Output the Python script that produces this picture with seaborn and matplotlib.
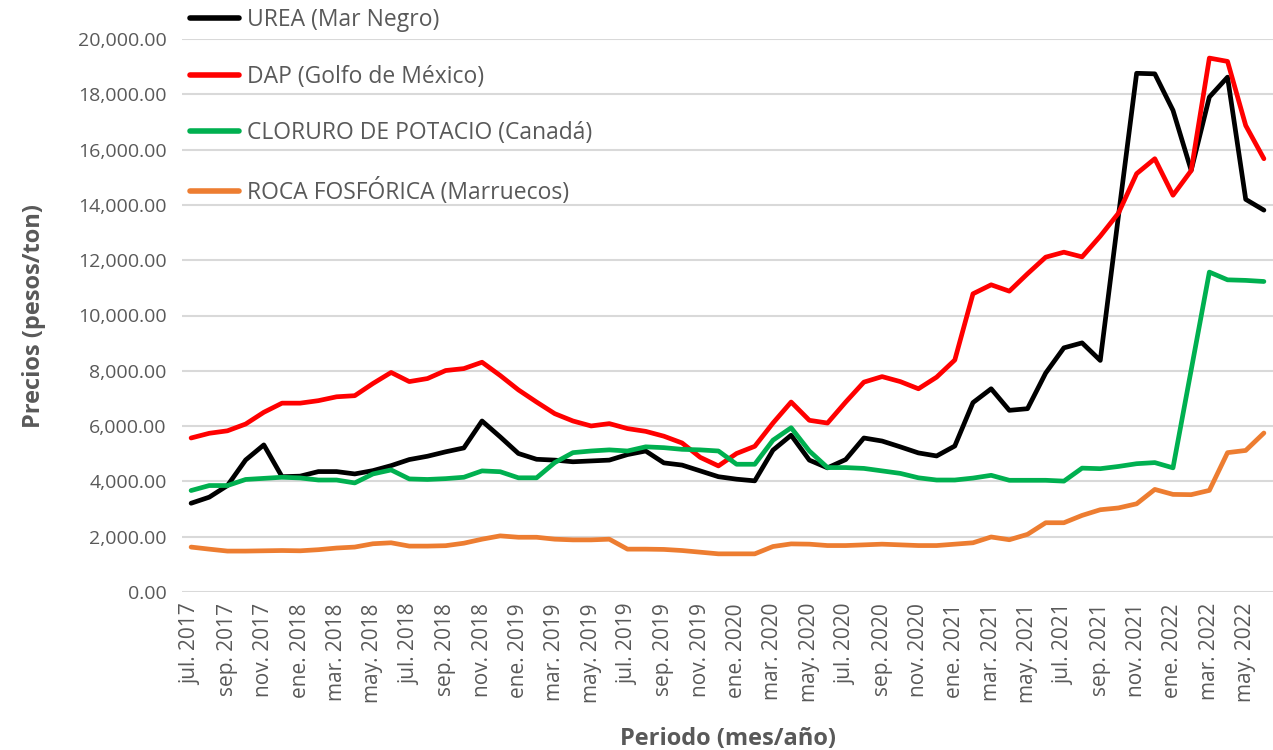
import pandas as pd
import matplotlib
matplotlib.use("Agg")
import matplotlib.pyplot as plt
import seaborn as sns

sns.set_theme(style="white")
plt.rcParams['font.family'] = ['Open Sans', 'DejaVu Sans']

GRIS = '#595959'

# Precios mensuales jul. 2017 - jun. 2022 (pesos/ton)
urea = [3210, 3430, 3850, 4775, 5320, 4170, 4190, 4355, 4355, 4270,
        4390, 4570, 4790, 4910, 5070, 5210, 6185, 5610, 5010, 4800,
        4770, 4710, 4740, 4770, 4970, 5100, 4670, 4590, 4380, 4170,
        4080, 4020, 5130, 5670, 4770, 4490, 4790, 5570, 5460, 5250,
        5030, 4920, 5280, 6850, 7350, 6570, 6630, 7920, 8830, 9010,
        8375, 13600, 18760, 18740, 17420, 15250, 17900, 18620, 14200, 13810]

dap = [5570, 5740, 5830, 6075, 6500, 6830, 6830, 6920, 7060, 7100,
       7540, 7940, 7610, 7720, 8010, 8080, 8310, 7830, 7310, 6870,
       6450, 6185, 6005, 6090, 5910, 5810, 5635, 5390, 4870, 4560,
       5010, 5270, 6110, 6870, 6210, 6110, 6870, 7590, 7790, 7610,
       7350, 7770, 8390, 10785, 11110, 10880, 11510, 12110, 12290, 12120,
       12870, 13700, 15130, 15670, 14350, 15240, 19310, 19190, 16870, 15670]

cloruro = [3670, 3850, 3850, 4070, 4110, 4150, 4125, 4050, 4050, 3945,
           4270, 4415, 4090, 4070, 4100, 4150, 4380, 4350, 4130, 4130,
           4680, 5040, 5100, 5140, 5100, 5250, 5220, 5160, 5140, 5100,
           4620, 4620, 5490, 5940, 5100, 4500, 4500, 4470, 4380, 4290,
           4130, 4050, 4050, 4120, 4220, 4040, 4040, 4040, 4010, 4480,
           4460, 4540, 4640, 4680, 4490, 8030, 11570, 11290, 11270, 11230]

roca = [1625, 1550, 1480, 1480, 1490, 1500, 1490, 1530, 1590, 1625,
        1745, 1780, 1660, 1660, 1675, 1765, 1910, 2030, 1980, 1980,
        1910, 1885, 1885, 1910, 1550, 1550, 1540, 1500, 1440, 1380,
        1380, 1380, 1645, 1740, 1730, 1680, 1680, 1705, 1730, 1705,
        1680, 1680, 1730, 1780, 1990, 1890, 2085, 2505, 2505, 2770,
        2975, 3040, 3190, 3710, 3530, 3520, 3675, 5040, 5120, 5750]

etiquetas = ['jul. 2017', 'sep. 2017', 'nov. 2017', 'ene. 2018', 'mar. 2018',
             'may. 2018', 'jul. 2018', 'sep. 2018', 'nov. 2018', 'ene. 2019',
             'mar. 2019', 'may. 2019', 'jul. 2019', 'sep. 2019', 'nov. 2019',
             'ene. 2020', 'mar. 2020', 'may. 2020', 'jul. 2020', 'sep. 2020',
             'nov. 2020', 'ene. 2021', 'mar. 2021', 'may. 2021', 'jul. 2021',
             'sep. 2021', 'nov. 2021', 'ene. 2022', 'mar. 2022', 'may. 2022']

series = {
    'UREA (Mar Negro)': urea,
    'DAP (Golfo de México)': dap,
    'CLORURO DE POTACIO (Canadá)': cloruro,
    'ROCA FOSFÓRICA (Marruecos)': roca,
}
colores = {
    'UREA (Mar Negro)': '#000000',
    'DAP (Golfo de México)': '#FF0000',
    'CLORURO DE POTACIO (Canadá)': '#00B050',
    'ROCA FOSFÓRICA (Marruecos)': '#ED7D31',
}

df = pd.concat([pd.DataFrame({'mes': range(len(v)), 'precio': v, 'serie': k})
                for k, v in series.items()])

fig = plt.figure(figsize=(12.73, 7.5), dpi=100)
ax = fig.add_axes([182 / 1273, 1 - 592 / 750, 1091 / 1273, 553 / 750])

sns.lineplot(data=df, x='mes', y='precio', hue='serie', palette=colores,
             linewidth=3.4, ax=ax, legend=True)

ax.set_xlim(-0.5, len(urea) - 0.5)
ax.set_ylim(0, 20000)
ax.set_yticks(range(0, 20001, 2000))
ax.set_yticklabels([f'{v:,.2f}' for v in range(0, 20001, 2000)])
ax.set_xticks(range(0, len(urea), 2))
ax.set_xticklabels(etiquetas, rotation=90)
ax.tick_params(axis='y', labelsize=14, colors=GRIS, length=0, pad=11)
ax.tick_params(axis='x', labelsize=15, colors=GRIS, length=0, pad=8)
ax.grid(axis='y', color='#D9D9D9', linewidth=1.5)
ax.set_axisbelow(True)
for s in ax.spines.values():
    s.set_visible(False)

ax.set_ylabel('Precios (pesos/ton)', fontsize=17, fontweight='bold', color=GRIS)
ax.set_xlabel('Periodo (mes/año)', fontsize=17, fontweight='bold', color=GRIS)
ax.yaxis.set_label_coords(-0.125, 0.5)
ax.xaxis.set_label_coords(0.5, -0.245)

leg = ax.legend(loc='upper left', bbox_to_anchor=(190 / 1273, 1 - 8 / 750),
                bbox_transform=fig.transFigure, frameon=False, fontsize=16.5,
                handlelength=2.15, handletextpad=0.33, labelspacing=1.42,
                borderpad=0, borderaxespad=0)
for t in leg.get_texts():
    t.set_color(GRIS)
for l in leg.get_lines():
    l.set_linewidth(4)

fig.savefig('out.png', dpi=100)
